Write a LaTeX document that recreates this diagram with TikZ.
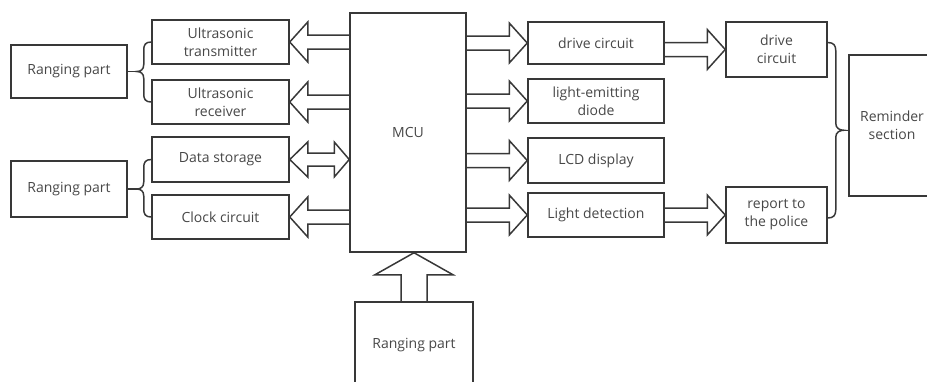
\documentclass[tikz,border=0pt]{standalone}
\usepackage{fontspec}
\setmainfont{Open Sans}
\usetikzlibrary{calc}
\definecolor{ln}{HTML}{383838}
\definecolor{tx}{HTML}{474747}
\newcommand\myrarrow[2]{%
  \draw[hollow] ($(#1.east|-#2.west)+(0,-7)$) -- ($(#2.west)+(-18,-7)$) -- ($(#2.west)+(-18,-20)$) -- (#2.west) -- ($(#2.west)+(-18,20)$) -- ($(#2.west)+(-18,7)$) -- ($(#1.east|-#2.west)+(0,7)$);}
\newcommand\mylarrow[2]{%
  \draw[hollow] ($(#1.west|-#2.east)+(0,-7)$) -- ($(#2.east)+(18,-7)$) -- ($(#2.east)+(18,-20)$) -- (#2.east) -- ($(#2.east)+(18,20)$) -- ($(#2.east)+(18,7)$) -- ($(#1.west|-#2.east)+(0,7)$);}
\newcommand\mylbrace[3]{%
  \coordinate (cusp) at ($(#3.east)+(9,0)$);
  \coordinate (bx) at ($(#3.east)+(16,0)$);
  \draw[hollow] (#1.west) .. controls +(-6,0) and +(0,-5) .. ($(bx|-#1.west)+(0,8)$) -- ($(bx|-cusp)+(0,-7)$) .. controls +(0,5) and +(4,0) .. (cusp) .. controls +(4,0) and +(0,-5) .. ($(bx|-cusp)+(0,7)$) -- ($(bx|-#2.west)+(0,-8)$) .. controls +(0,5) and +(-6,0) .. (#2.west);
  \draw[hollow] (#3.east) -- (cusp);}
\begin{document}
\begin{tikzpicture}[x=1pt,y=-1pt,
  box/.style={draw=ln,line width=1.5pt,text=tx,align=center,inner sep=0pt,font=\fontsize{14}{18}\selectfont},
  hollow/.style={draw=ln,line width=1.5pt,line join=miter}]
\useasboundingbox (0,0) rectangle (927,381);
\clip (0,0) rectangle (927,381);
% left column
\node[box,minimum width=116pt,minimum height=53pt] (rp1) at (69,71.5) {Ranging part};
\node[box,minimum width=116pt,minimum height=56pt] (rp2) at (69,189) {Ranging part};
\node[box,minimum width=137pt,minimum height=44pt] (ut) at (220.5,42) {Ultrasonic\\transmitter};
\node[box,minimum width=137pt,minimum height=44pt] (ur) at (220.5,102) {Ultrasonic\\receiver};
\node[box,minimum width=137pt,minimum height=45pt] (ds) at (220.5,159.5) {Data storage};
\node[box,minimum width=137pt,minimum height=44pt] (cc) at (220.5,217) {Clock circuit};
% MCU
\node[box,minimum width=116pt,minimum height=239pt] (mcu) at (408,132.5) {MCU};
% right column
\node[box,minimum width=136pt,minimum height=42pt] (dc) at (596,43) {drive circuit};
\node[box,minimum width=136pt,minimum height=44pt] (led) at (596,101) {light-emitting\\diode};
\node[box,minimum width=136pt,minimum height=45pt] (lcd) at (596,160.5) {LCD display};
\node[box,minimum width=136pt,minimum height=44pt] (ld) at (596,215) {Light detection};
\node[box,minimum width=101pt,minimum height=55pt] (dc2) at (776.5,49.5) {drive\\circuit};
\node[box,minimum width=101pt,minimum height=56pt] (rep) at (776.5,215) {report to\\the police};
\node[box,minimum width=86pt,minimum height=141pt] (rem) at (892,125.5) {Reminder\\section};
\node[box,minimum width=118pt,minimum height=86pt] (bot) at (414,345) {Ranging part};
% braces
\mylbrace{ut}{ur}{rp1}
\mylbrace{ds}{cc}{rp2}
\coordinate (rtop) at ($(dc2.east)+(0,-7)$);
\coordinate (rbot) at ($(rep.east)+(0,3)$);
\coordinate (rcusp) at ($(rtop)!0.5!(rbot)+(16,0)$);
\coordinate (rbx) at ($(rtop)+(8,0)$);
\draw[hollow] (rtop) .. controls +(6,0) and +(0,-5) .. ($(rtop)+(8,8)$) -- ($(rbx|-rcusp)+(0,-7)$) .. controls +(0,5) and +(-4,0) .. (rcusp) .. controls +(-4,0) and +(0,-5) .. ($(rbx|-rcusp)+(0,7)$) -- ($(rbx|-rbot)+(0,-8)$) .. controls +(0,5) and +(6,0) .. (rbot);
\draw[hollow] (rcusp) -- (rem.west|-rcusp);
% hollow arrows
\mylarrow{mcu}{ut}
\mylarrow{mcu}{ur}
\mylarrow{mcu}{cc}
\draw[hollow] (ds.east) -- ++(18,-17.5) -- ++(0,11) -- ($(mcu.west|-ds.east)+(-15,-6.5)$) -- ++(0,-11) -- (mcu.west|-ds.east) -- ++(-15,17.5) -- ++(0,-11) -- ($(ds.east)+(18,6.5)$) -- ++(0,11) -- cycle;
\myrarrow{mcu}{dc}
\myrarrow{mcu}{led}
\myrarrow{mcu}{lcd}
\myrarrow{mcu}{ld}
\myrarrow{dc}{dc2}
\myrarrow{ld}{rep}
\draw[hollow] ($(bot.north)+(-13,0)$) -- ($(bot.north|-mcu.south)+(-13,22)$) -- ++(-26,0) -- (bot.north|-mcu.south) -- ++(39,22) -- ++(-26,0) -- ($(bot.north)+(13,0)$);
\end{tikzpicture}
\end{document}
